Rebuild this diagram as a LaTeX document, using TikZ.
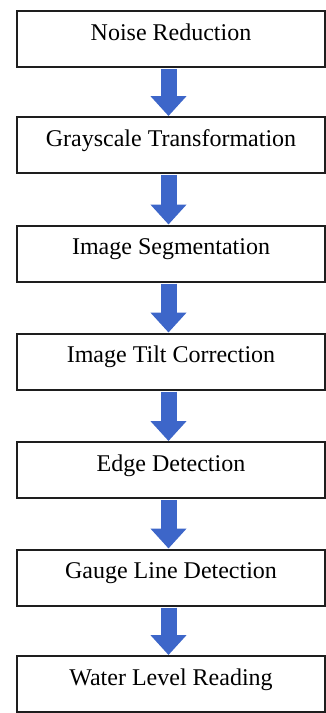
\documentclass[tikz,border=0pt]{standalone}
\usepackage{fontspec}
\setmainfont{Liberation Serif}
\usetikzlibrary{arrows.meta}
\definecolor{arrowblue}{HTML}{3D66C9}
\definecolor{boxline}{HTML}{1E1E1E}
\begin{document}
\begin{tikzpicture}[x=1pt,y=-1pt,
  stepbox/.style={draw=boxline, line width=2pt, fill=white, minimum width=308pt, minimum height=56pt,
    inner sep=0pt, text height=29pt, text depth=27pt, font=\fontsize{24}{28}\selectfont},
  flowarrow/.style={draw=arrowblue, line width=16pt,
    -{Triangle[width=35pt,length=20pt]}, arrowblue}]
\useasboundingbox (0,0) rectangle (326,713);
\node[stepbox] (b1) at (171,39) {Noise Reduction};
\node[stepbox] (b2) at (171,145) {Grayscale Transformation};
\node[stepbox] (b3) at (171,253.5) {Image Segmentation};
\node[stepbox] (b4) at (171,361.5) {Image Tilt Correction};
\node[stepbox] (b5) at (171,470) {Edge Detection};
\node[stepbox] (b6) at (171,577.5) {Gauge Line Detection};
\node[stepbox] (b7) at (171,684) {Water Level Reading};
\foreach \a/\b in {b1/b2,b2/b3,b3/b4,b4/b5,b5/b6,b6/b7}{
  \draw[flowarrow] ([xshift=-2.5pt,yshift=-1pt]\a.south) -- ([xshift=-2.5pt]\b.north);
}
\end{tikzpicture}
\end{document}
